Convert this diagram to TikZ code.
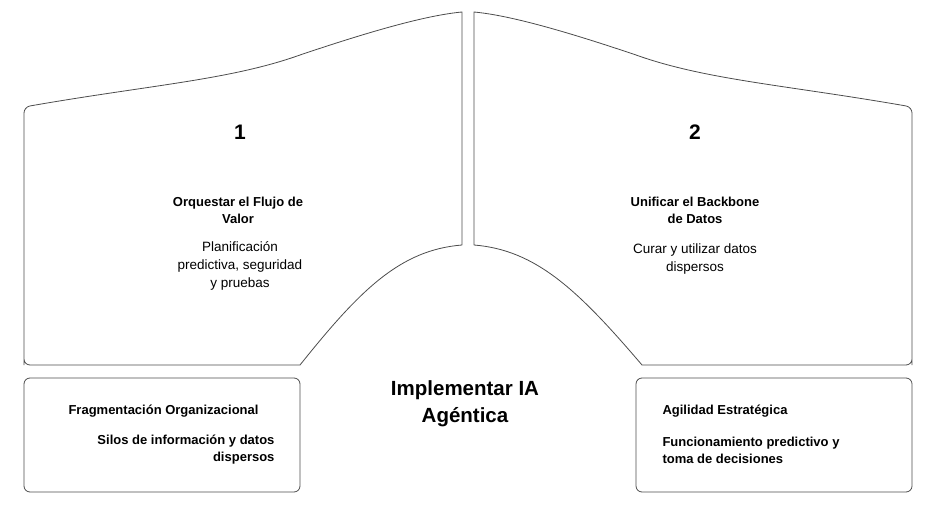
\documentclass[tikz,border=0pt]{standalone}
\usepackage{fontspec}
\setmainfont{Liberation Sans}
\begin{document}
\begin{tikzpicture}[x=1pt,y=-1pt,line join=round,
  panel/.style={draw=black!70,line width=0.8pt},
  num/.style={font=\bfseries\fontsize{21}{24}\selectfont},
  head/.style={font=\bfseries\fontsize{13}{17}\selectfont,align=center},
  body/.style={font=\fontsize{13.5}{18}\selectfont,align=center}]
\useasboundingbox (0,0) rectangle (936,508);
% left panel
\draw[panel,rounded corners=6pt] (24,365) -- (24,107)
  [sharp corners] .. controls (150,85) and (230,80) .. (300,55)
  .. controls (380,28) and (430,15) .. (462,12) -- (462,245)
  .. controls (400,250) and (360,290) .. (300,365)
  [rounded corners=6pt] -- (24,365) -- (24,200);
% right panel
\draw[panel,rounded corners=6pt] (912,365) -- (912,107)
  [sharp corners] .. controls (786,85) and (706,80) .. (636,55)
  .. controls (556,28) and (506,15) .. (474,12) -- (474,245)
  .. controls (536,250) and (578,290) .. (642,365)
  [rounded corners=6pt] -- (912,365) -- (912,200);
% bottom boxes
\draw[panel,rounded corners=6pt] (24,378) rectangle (300,492);
\draw[panel,rounded corners=6pt] (636,378) rectangle (912,492);
% texts
\node[num] (n1) at (240,132) {1};
\node[head] (h1) at (238,210) {Orquestar el Flujo de\\Valor};
\node[body] (b1) at (240,266) {Planificación\\predictiva, seguridad\\y pruebas};
\node[num] (n2) at (695,132) {2};
\node[head] (h2) at (695,210) {Unificar el Backbone\\de Datos};
\node[body] (b2) at (695,259) {Curar y utilizar datos\\dispersos};
\node[font=\bfseries\fontsize{20.5}{27}\selectfont,align=center] (goal) at (465,404) {Implementar IA\\Agéntica};
\node[head,anchor=west] (l1) at (65,411) {Fragmentación Organizacional};
\node[head,align=right,anchor=east] (l2) at (278,450) {Silos de información y datos\\dispersos};
\node[head,anchor=west] (r1) at (659,411) {Agilidad Estratégica};
\node[head,align=left,anchor=west] (r2) at (659,450) {Funcionamiento predictivo y\\toma de decisiones};
\end{tikzpicture}
\end{document}
